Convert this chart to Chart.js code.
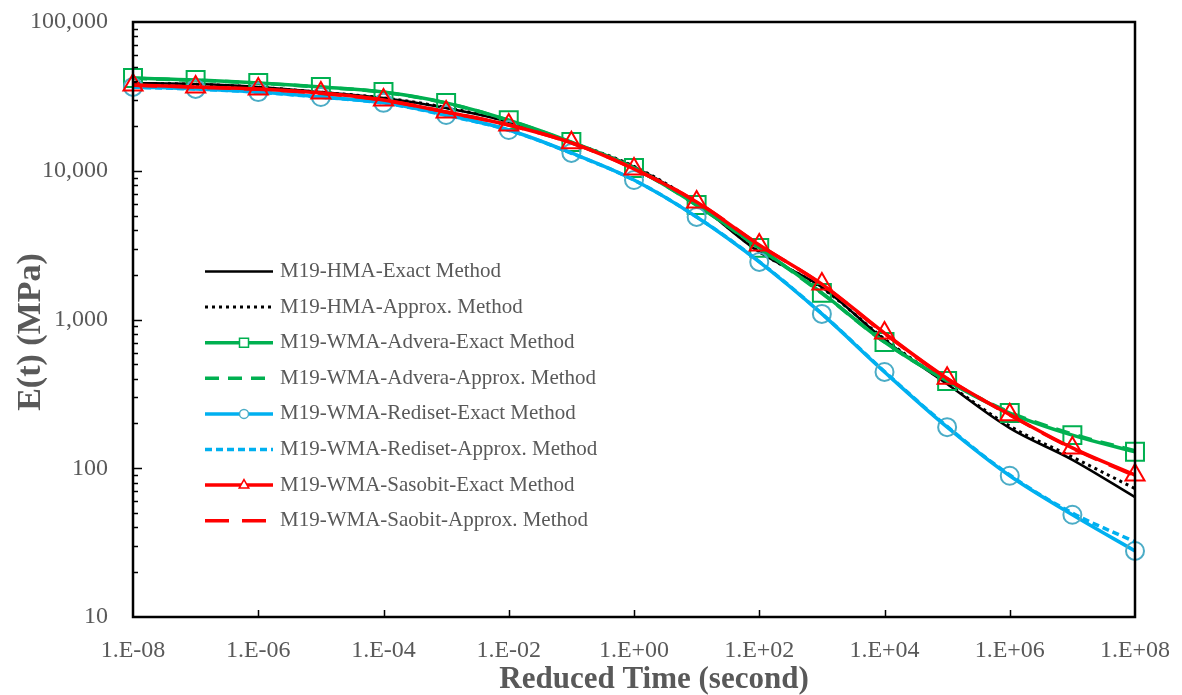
<!DOCTYPE html>
<html>
<head>
<meta charset="utf-8">
<script src="https://cdn.jsdelivr.net/npm/chart.js@4/dist/chart.umd.min.js"></script>
<style>
  html, body { margin: 0; padding: 0; background: #ffffff; }
  #wrap { width: 1182px; height: 695px; }
</style>
</head>
<body>
<div id="wrap"><canvas id="chart" width="1182" height="695"></canvas></div>
<script>
// Reduced time (s), one point per decade
const reducedTime = [1e-8, 1e-7, 1e-6, 1e-5, 1e-4, 1e-3, 1e-2, 1e-1, 1e0, 1e1, 1e2, 1e3, 1e4, 1e5, 1e6, 1e7, 1e8];

// Relaxation modulus E(t), MPa
const hmaExact      = [38900, 38300, 36600, 33800, 30800, 26400, 21300, 15400, 10600, 6000, 2840, 1650, 730, 368, 186, 114, 64];
const hmaApprox     = [38700, 38100, 36400, 33700, 30900, 26600, 21400, 15500, 10700, 6050, 2860, 1630, 740, 372, 192, 119, 73];
const adveraExact   = [42000, 40800, 38900, 36600, 33800, 28600, 21900, 15600, 10450, 5890, 3030, 1510, 706, 386, 235, 167, 129];
const adveraApprox  = [41800, 40600, 38800, 36500, 33700, 28500, 21800, 15500, 10400, 5860, 3010, 1500, 705, 388, 238, 170, 131];
const redisetExact  = [36600, 35500, 33800, 31300, 28600, 23700, 18800, 13170, 8670, 4890, 2440, 1090, 444, 189, 89, 48.7, 27.8];
const redisetApprox = [36500, 35400, 33700, 31200, 28500, 23600, 18700, 13100, 8650, 4900, 2450, 1095, 447, 191, 90, 50, 32];
const sasobitExact  = [37700, 36600, 35400, 33300, 29900, 24800, 20300, 15400, 10280, 6170, 3170, 1730, 810, 402, 229, 137, 90];
const sasobitApprox = [37600, 36500, 35300, 33200, 29800, 24800, 20300, 15400, 10300, 6180, 3180, 1720, 805, 400, 228, 136, 89];

const seriesNames = [
  'M19-HMA-Exact Method',
  'M19-HMA-Approx. Method',
  'M19-WMA-Advera-Exact Method',
  'M19-WMA-Advera-Approx. Method',
  'M19-WMA-Rediset-Exact Method',
  'M19-WMA-Rediset-Approx. Method',
  'M19-WMA-Sasobit-Exact Method',
  'M19-WMA-Saobit-Approx. Method'
];

// Axis ticks and titles
const xTickValues = [1e-8, 1e-6, 1e-4, 1e-2, 1e0, 1e2, 1e4, 1e6, 1e8];
const xTickLabels = ['1.E-08', '1.E-06', '1.E-04', '1.E-02', '1.E+00', '1.E+02', '1.E+04', '1.E+06', '1.E+08'];
const yTickValues = [10, 100, 1000, 10000, 100000];
const yTickLabels = ['10', '100', '1,000', '10,000', '100,000'];
const xTitle = 'Reduced Time (second)';
const yTitle = 'E(t) (MPa)';

const TEXT = '#595959';
const SERIF = '"Liberation Serif", "Times New Roman", serif';

function pts(values) {
  return reducedTime.map((t, i) => ({ x: t, y: values[i] }));
}

function series(label, values, style) {
  return Object.assign({
    label: label,
    data: pts(values),
    fill: false,
    tension: 0.35,
    clip: false,
    pointRadius: 0,
    pointHoverRadius: 0,
    pointBackgroundColor: 'rgba(0,0,0,0)',
    pointBorderWidth: 2
  }, style);
}

const datasets = [
  series(seriesNames[0], hmaExact,      { borderColor: '#000000', borderWidth: 2.5 }),
  series(seriesNames[1], hmaApprox,     { borderColor: '#000000', borderWidth: 3, borderDash: [3, 4] }),
  series(seriesNames[2], adveraExact,   { borderColor: '#00B050', borderWidth: 3.5, pointStyle: 'rect', pointRadius: 12.7, pointBorderColor: '#00B050', legendMarker: 'rect' }),
  series(seriesNames[3], adveraApprox,  { borderColor: '#00B050', borderWidth: 3.5, borderDash: [14, 9] }),
  series(seriesNames[4], redisetExact,  { borderColor: '#00B0F0', borderWidth: 3.5, pointStyle: 'circle', pointRadius: 9, pointBorderColor: '#4BACC6', legendMarker: 'circle' }),
  series(seriesNames[5], redisetApprox, { borderColor: '#00B0F0', borderWidth: 3.5, borderDash: [7, 4] }),
  series(seriesNames[6], sasobitExact,  { borderColor: '#FF0000', borderWidth: 3.5, pointStyle: 'triangle', pointRadius: 11, pointBorderColor: '#FF0000', legendMarker: 'triangle' }),
  series(seriesNames[7], sasobitApprox, { borderColor: '#FF0000', borderWidth: 3.5, borderDash: [24, 13] })
];
// later series are painted over earlier ones
datasets.forEach((d, i) => { d.order = -i; });

// Frame around the plot area, inward tick marks and axis titles
const framePlugin = {
  id: 'frame',
  afterDatasetsDraw(chart) {
    const { ctx, chartArea: a, scales } = chart;
    ctx.save();
    ctx.strokeStyle = '#000000';
    ctx.lineWidth = 1.5;
    ctx.beginPath();
    // y ticks: decades long, intermediate multiples short
    for (let e = 1; e <= 5; e++) {
      const base = Math.pow(10, e);
      const yp = Math.round(scales.y.getPixelForValue(base)) + 0.5;
      if (e > 1 && e < 5) { ctx.moveTo(a.left, yp); ctx.lineTo(a.left + 9, yp); }
      if (e < 5) {
        for (let m = 2; m <= 9; m++) {
          const ym = Math.round(scales.y.getPixelForValue(base * m)) + 0.5;
          ctx.moveTo(a.left, ym); ctx.lineTo(a.left + 5, ym);
        }
      }
    }
    // x ticks every second decade
    xTickValues.forEach((v, i) => {
      if (i === 0 || i === xTickValues.length - 1) return;
      const xp = Math.round(scales.x.getPixelForValue(v)) + 0.5;
      ctx.moveTo(xp, a.bottom); ctx.lineTo(xp, a.bottom - 7);
    });
    ctx.stroke();
    ctx.lineWidth = 2.5;
    ctx.strokeRect(a.left, a.top, a.right - a.left, a.bottom - a.top);

    ctx.fillStyle = TEXT;
    ctx.textAlign = 'center';
    ctx.textBaseline = 'alphabetic';
    ctx.font = 'bold 31px ' + SERIF;
    ctx.fillText(xTitle, 654, 688);
    ctx.translate(40, 332);
    ctx.rotate(-Math.PI / 2);
    ctx.font = 'bold 34px ' + SERIF;
    ctx.fillText(yTitle, 0, 0);
    ctx.restore();
  }
};

// Legend drawn inside the plot area
const legendPlugin = {
  id: 'insideLegend',
  afterDraw(chart) {
    const { ctx } = chart;
    const x0 = 205, x1 = 273, tx = 280, top = 271.5, step = 35.6;
    ctx.save();
    chart.data.datasets.forEach((d, i) => {
      const y = top + i * step;
      ctx.strokeStyle = d.borderColor;
      ctx.lineWidth = d.borderWidth;
      ctx.setLineDash(d.borderDash || []);
      ctx.beginPath();
      ctx.moveTo(x0, y); ctx.lineTo(x1, y);
      ctx.stroke();
      ctx.setLineDash([]);
      if (d.legendMarker) {
        const cx = (x0 + x1) / 2 + 5;
        ctx.strokeStyle = d.pointBorderColor;
        ctx.lineWidth = 1.5;
        ctx.fillStyle = '#ffffff';
        ctx.beginPath();
        if (d.legendMarker === 'rect') {
          ctx.rect(cx - 4.5, y - 4.5, 9, 9);
        } else if (d.legendMarker === 'circle') {
          ctx.arc(cx, y, 4.5, 0, Math.PI * 2);
        } else {
          ctx.moveTo(cx, y - 5.5);
          ctx.lineTo(cx + 4.8, y + 3);
          ctx.lineTo(cx - 4.8, y + 3);
          ctx.closePath();
        }
        ctx.fill();
        ctx.stroke();
      }
      ctx.fillStyle = TEXT;
      ctx.font = '21px ' + SERIF;
      ctx.textBaseline = 'middle';
      ctx.textAlign = 'left';
      ctx.fillText(d.label, tx, y);
    });
    ctx.restore();
  }
};

new Chart(document.getElementById('chart'), {
  type: 'line',
  data: { datasets: datasets },
  options: {
    responsive: false,
    animation: false,
    events: [],
    layout: { padding: { top: 22, right: 47, bottom: 0, left: 0 } },
    plugins: {
      legend: { display: false },
      tooltip: { enabled: false }
    },
    scales: {
      x: {
        type: 'logarithmic',
        min: 1e-8,
        max: 1e8,
        grid: { display: false, drawTicks: false },
        border: { display: false },
        afterBuildTicks(scale) { scale.ticks = xTickValues.map(v => ({ value: v })); },
        afterFit(scale) {
          scale.height = 78;
          scale.paddingLeft = 0; scale.paddingRight = 0;
        },
        ticks: {
          autoSkip: false,
          maxRotation: 0,
          padding: 19,
          color: TEXT,
          font: { family: SERIF, size: 24 },
          callback: (v, i) => xTickLabels[i]
        },
        title: { display: false }
      },
      y: {
        type: 'logarithmic',
        min: 10,
        max: 100000,
        grid: { display: false, drawTicks: false },
        border: { display: false },
        afterBuildTicks(scale) { scale.ticks = yTickValues.map(v => ({ value: v })); },
        afterFit(scale) {
          scale.width = 133;
          scale.paddingTop = 0; scale.paddingBottom = 0;
        },
        ticks: {
          autoSkip: false,
          padding: 25,
          color: TEXT,
          font: { family: SERIF, size: 24 },
          callback: (v, i) => yTickLabels[i]
        },
        title: { display: false }
      }
    }
  },
  plugins: [framePlugin, legendPlugin]
});
</script>
</body>
</html>
